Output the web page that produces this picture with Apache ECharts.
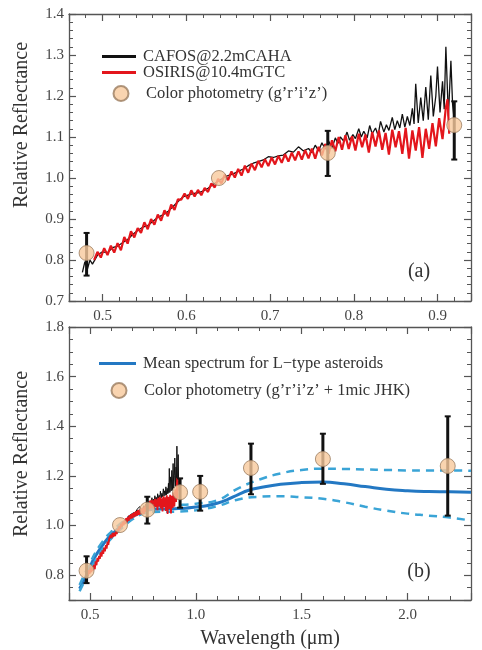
<!DOCTYPE html>
<html>
<head>
<meta charset="utf-8">
<title>Relative reflectance</title>
<script src="https://cdn.jsdelivr.net/npm/echarts@6/dist/echarts.min.js"></script>
<style>
  html, body { margin: 0; padding: 0; background: #fff; }
  #container { width: 482px; height: 650px; }
</style>
</head>
<body>
<div id="container"></div>
<script>
// CAFOS@2.2mCAHA spectrum [wavelength, reflectance]
var cafos = [
	[0.476,0.770],[0.479,0.796],[0.482,0.778],[0.485,0.800],[0.488,0.790],[0.494,0.812],
	[0.500,0.820],[0.506,0.818],[0.512,0.830],[0.518,0.834],[0.524,0.842],[0.530,0.850],
	[0.536,0.862],[0.542,0.872],[0.548,0.880],[0.554,0.884],[0.560,0.894],[0.566,0.904],
	[0.572,0.910],[0.578,0.918],[0.584,0.930],[0.590,0.942],[0.596,0.954],[0.602,0.958],
	[0.608,0.962],[0.614,0.964],[0.620,0.968],[0.626,0.975],[0.632,0.984],[0.638,0.992],
	[0.644,1.000],[0.650,1.006],[0.656,1.010],[0.662,1.016],[0.668,1.022],[0.674,1.030],
	[0.680,1.036],[0.686,1.040],[0.692,1.044],[0.698,1.052],[0.704,1.050],[0.710,1.054],
	[0.716,1.056],[0.722,1.066],[0.728,1.063],[0.734,1.076],[0.740,1.066],[0.746,1.072],
	[0.750,1.062],[0.754,1.080],[0.758,1.066],[0.762,1.086],[0.766,1.070],[0.770,1.090],
	[0.774,1.072],[0.778,1.098],[0.781,1.084],[0.784,1.100],[0.788,1.090],[0.792,1.112],
	[0.795,1.092],[0.799,1.106],[0.802,1.096],[0.806,1.120],[0.809,1.100],[0.812,1.114],
	[0.816,1.098],[0.819,1.128],[0.822,1.108],[0.826,1.122],[0.829,1.104],[0.832,1.138],
	[0.836,1.112],[0.839,1.130],[0.842,1.116],[0.846,1.148],[0.849,1.118],[0.852,1.140],
	[0.855,1.122],[0.858,1.156],[0.861,1.124],[0.864,1.150],[0.867,1.128],[0.870,1.170],
	[0.872,1.132],[0.874,1.230],[0.877,1.134],[0.880,1.196],[0.883,1.140],[0.886,1.222],
	[0.889,1.142],[0.892,1.250],[0.895,1.150],[0.898,1.200],[0.900,1.272],[0.903,1.160],
	[0.906,1.236],[0.908,1.168],[0.910,1.320],[0.913,1.150],[0.916,1.286],[0.918,1.180],
	[0.920,1.140]
];

// OSIRIS@10.4mGTC spectrum [wavelength, reflectance]
var osiris = [
	[0.490,0.800],[0.494,0.820],[0.498,0.806],[0.502,0.829],[0.506,0.812],[0.510,0.835],
	[0.514,0.818],[0.518,0.841],[0.522,0.824],[0.526,0.856],[0.530,0.840],[0.534,0.870],
	[0.538,0.855],[0.542,0.878],[0.546,0.866],[0.550,0.892],[0.554,0.875],[0.558,0.900],
	[0.562,0.886],[0.566,0.911],[0.570,0.896],[0.574,0.921],[0.578,0.907],[0.582,0.935],
	[0.586,0.922],[0.590,0.948],[0.594,0.947],[0.598,0.962],[0.602,0.949],[0.606,0.970],
	[0.610,0.955],[0.614,0.971],[0.618,0.958],[0.622,0.976],[0.626,0.966],[0.630,0.987],
	[0.634,0.977],[0.638,0.998],[0.642,0.987],[0.646,1.008],[0.650,0.995],[0.654,1.016],
	[0.658,1.001],[0.662,1.022],[0.666,1.006],[0.670,1.030],[0.674,1.013],[0.678,1.035],
	[0.682,1.019],[0.686,1.042],[0.690,1.026],[0.694,1.046],[0.698,1.029],[0.702,1.050],
	[0.706,1.033],[0.710,1.054],[0.714,1.037],[0.718,1.058],[0.722,1.040],[0.726,1.062],
	[0.730,1.043],[0.734,1.065],[0.738,1.045],[0.742,1.068],[0.746,1.048],[0.750,1.072],
	[0.754,1.047],[0.758,1.076],[0.762,1.055],[0.766,1.083],[0.770,1.059],[0.774,1.092],
	[0.778,1.065],[0.782,1.100],[0.786,1.069],[0.790,1.104],[0.794,1.071],[0.798,1.102],
	[0.802,1.067],[0.806,1.108],[0.810,1.075],[0.814,1.106],[0.818,1.062],[0.822,1.112],
	[0.826,1.077],[0.830,1.116],[0.834,1.069],[0.838,1.110],[0.842,1.057],[0.846,1.118],
	[0.850,1.075],[0.854,1.114],[0.858,1.059],[0.862,1.122],[0.866,1.047],[0.870,1.116],
	[0.874,1.067],[0.878,1.124],[0.882,1.049],[0.886,1.120],[0.890,1.071],[0.894,1.134],
	[0.898,1.077],[0.902,1.146],[0.906,1.095],[0.910,1.172],[0.912,1.192],[0.914,1.108]
];

// mean L-type spectrum and its dispersion
var meanL = [
	[0.45,0.745],[0.48,0.795],[0.50,0.835],[0.52,0.870],[0.55,0.910],[0.58,0.945],
	[0.60,0.962],[0.64,0.995],[0.68,1.025],[0.72,1.045],[0.76,1.060],[0.80,1.066],
	[0.85,1.067],[0.90,1.068],[0.95,1.070],[1.00,1.075],[1.05,1.080],[1.10,1.090],
	[1.15,1.105],[1.20,1.125],[1.25,1.142],[1.30,1.152],[1.40,1.166],[1.50,1.173],
	[1.60,1.175],[1.70,1.168],[1.80,1.157],[1.90,1.146],[2.00,1.140],[2.10,1.137],
	[2.20,1.136],[2.30,1.134]
];
var upperL = [
	[0.45,0.760],[0.50,0.850],[0.55,0.925],[0.60,0.975],[0.65,1.012],[0.70,1.045],
	[0.75,1.068],[0.80,1.078],[0.90,1.082],[1.00,1.088],[1.10,1.102],[1.20,1.150],
	[1.30,1.185],[1.40,1.210],[1.50,1.224],[1.60,1.229],[1.70,1.228],[1.80,1.226],
	[1.90,1.224],[2.00,1.222],[2.10,1.222],[2.20,1.222],[2.30,1.221]
];
var lowerL = [
	[0.45,0.735],[0.50,0.820],[0.55,0.895],[0.60,0.948],[0.65,0.990],[0.70,1.025],
	[0.75,1.048],[0.80,1.055],[0.90,1.056],[1.00,1.062],[1.10,1.078],[1.20,1.105],
	[1.30,1.116],[1.40,1.118],[1.50,1.114],[1.60,1.108],[1.70,1.094],[1.80,1.076],
	[1.90,1.060],[2.00,1.048],[2.10,1.040],[2.20,1.032],[2.30,1.020]
];

// colour photometry, panel (a)
var photWaveA = [0.481, 0.639, 0.769, 0.920];
var photReflA = [0.817, 1.000, 1.061, 1.129];
var photLowA  = [0.762, null, 1.005, 1.045];
var photHighA = [0.866, null, 1.115, 1.187];

// colour photometry + 1mic JHK, panel (b)
var photWaveB = [0.483, 0.641, 0.770, 0.925, 1.020, 1.260, 1.600, 2.190];
var photReflB = [0.818, 1.002, 1.064, 1.134, 1.136, 1.232, 1.268, 1.240];
var photLowB  = [0.768, null, 1.008, 1.072, 1.060, 1.126, 1.168, 1.040];
var photHighB = [0.876, null, 1.116, 1.190, 1.200, 1.330, 1.370, 1.440];

var serif = '"Liberation Serif", "DejaVu Serif", serif';
var axisColor = '#555';

function zip(a, b) {
	var out = [];
	for (var i = 0; i < a.length; i++) out.push([a[i], b[i]]);
	return out;
}
function errData(w, lo, hi) {
	var out = [];
	for (var i = 0; i < w.length; i++) {
		if (lo[i] != null) out.push([w[i], lo[i], hi[i]]);
	}
	return out;
}
function fmt(v) { return v.toFixed(1); }

function axis(grid, pos, min, max, split, minorSplit, labels, showMin, showMax) {
	return {
		type: 'value', gridIndex: grid, position: pos,
		min: min, max: max, splitNumber: split, scale: true,
		axisLine: { show: true, onZero: false, lineStyle: { color: axisColor, width: 1.3 } },
		axisTick: { show: true, inside: true, length: 7, lineStyle: { color: axisColor, width: 1.2 } },
		minorTick: { show: true, splitNumber: minorSplit, length: 4, lineStyle: { color: axisColor, width: 1 } },
		axisLabel: {
			show: labels, margin: (pos == 'left' ? 5 : 8), color: '#444',
			fontFamily: serif, fontSize: 15, formatter: fmt,
			showMinLabel: showMin, showMaxLabel: showMax
		},
		splitLine: { show: false }
	};
}

function errSeries(xi, data) {
	return {
		type: 'custom', xAxisIndex: xi, yAxisIndex: xi, data: data, z: 4,
		encode: { x: 0, y: [1, 2] },
		renderItem: function(params, api) {
			var x = api.value(0);
			var p1 = api.coord([x, api.value(1)]);
			var p2 = api.coord([x, api.value(2)]);
			var c = 3;
			return {
				type: 'group',
				children: [
					{ type: 'line', shape: { x1: p1[0], y1: p1[1], x2: p2[0], y2: p2[1] }, style: { stroke: '#111', lineWidth: 3 } },
					{ type: 'line', shape: { x1: p1[0] - c, y1: p1[1], x2: p1[0] + c, y2: p1[1] }, style: { stroke: '#111', lineWidth: 2 } },
					{ type: 'line', shape: { x1: p2[0] - c, y1: p2[1], x2: p2[0] + c, y2: p2[1] }, style: { stroke: '#111', lineWidth: 2 } }
				]
			};
		}
	};
}

var photStyle = { color: '#f7c99c', borderColor: '#9b7d60', borderWidth: 1 };
var legendText = { fontFamily: serif, fontSize: 16.5, color: '#333', padding: [0, 0, 0, 2] };

function legend(name, left, top, icon, w, h) {
	return {
		data: [icon ? { name: name, icon: icon } : name],
		left: left, top: top, padding: 0, itemWidth: w, itemHeight: h,
		selectedMode: false, textStyle: legendText
	};
}

var option = {
	animation: false,
	backgroundColor: '#fff',
	grid: [
		{ left: 69, top: 14, width: 402, height: 287 },
		{ left: 69, top: 327, width: 402, height: 275 }
	],
	xAxis: [
		axis(0, 'bottom', 0.46, 0.94, 5, 5, true, false, false),
		axis(0, 'top', 0.46, 0.94, 5, 5, false, false, false),
		Object.assign(axis(1, 'bottom', 0.4, 2.3, 4, 5, true, false, false), {
			name: 'Wavelength (μm)', nameLocation: 'middle', nameGap: 29,
			nameTextStyle: { fontFamily: serif, fontSize: 20, color: '#333' }
		}),
		axis(1, 'top', 0.4, 2.3, 4, 5, false, false, false)
	],
	yAxis: [
		axis(0, 'left', 0.7, 1.4, 5, 5, true, true, true),
		axis(0, 'right', 0.7, 1.4, 5, 5, false, false, false),
		axis(1, 'left', 0.7, 1.8, 5, 4, true, false, true),
		axis(1, 'right', 0.7, 1.8, 5, 4, false, false, false)
	],
	legend: [
		legend('CAFOS@2.2mCAHA', 102, 48, 'rect', 34, 3),
		legend('OSIRIS@10.4mGTC', 102, 64, 'rect', 34, 3),
		legend('Color photometry (g’r’i’z’)', 112.5, 85, null, 36, 15),
		legend('Mean spectrum for L−type asteroids', 99, 355, 'rect', 37, 3),
		legend('Color photometry (g’r’i’z’ + 1mic JHK)', 110.5, 382, null, 36, 15)
	],
	graphic: [
		{ type: 'text', x: 22, y: 125, rotation: Math.PI / 2,
		  style: { text: 'Relative Reflectance', font: '20px ' + serif, fill: '#333', align: 'center', verticalAlign: 'middle' } },
		{ type: 'text', x: 22, y: 454, rotation: Math.PI / 2,
		  style: { text: 'Relative Reflectance', font: '20px ' + serif, fill: '#333', align: 'center', verticalAlign: 'middle' } },
		{ type: 'text', x: 419, y: 272,
		  style: { text: '(a)', font: '20px ' + serif, fill: '#333', align: 'center', verticalAlign: 'middle' } },
		{ type: 'text', x: 419, y: 572,
		  style: { text: '(b)', font: '20px ' + serif, fill: '#333', align: 'center', verticalAlign: 'middle' } }
	],
	series: [
		// panel (a)
		{ name: 'CAFOS@2.2mCAHA', type: 'line', xAxisIndex: 0, yAxisIndex: 0, data: cafos,
		  symbol: 'none', lineStyle: { color: '#111', width: 1.3 }, itemStyle: { color: '#111' } },
		{ name: 'OSIRIS@10.4mGTC', type: 'line', xAxisIndex: 0, yAxisIndex: 0, data: osiris,
		  symbol: 'none', lineStyle: { color: '#e3161c', width: 2.2 }, itemStyle: { color: '#e3161c' } },
		errSeries(0, errData(photWaveA, photLowA, photHighA)),
		{ name: 'Color photometry (g’r’i’z’)', type: 'scatter', xAxisIndex: 0, yAxisIndex: 0,
		  data: zip(photWaveA, photReflA), symbolSize: 15, itemStyle: photStyle, z: 5 },

		// panel (b)
		{ name: 'Mean spectrum for L−type asteroids', type: 'line', xAxisIndex: 2, yAxisIndex: 2, data: meanL,
		  symbol: 'none', smooth: true, lineStyle: { color: '#2378c3', width: 3 }, itemStyle: { color: '#2378c3' } },
		{ name: 'upper', type: 'line', xAxisIndex: 2, yAxisIndex: 2, data: upperL,
		  symbol: 'none', smooth: true, lineStyle: { color: '#3aa4d6', width: 2.5, type: [8, 6] } },
		{ name: 'lower', type: 'line', xAxisIndex: 2, yAxisIndex: 2, data: lowerL,
		  symbol: 'none', smooth: true, lineStyle: { color: '#3aa4d6', width: 2.5, type: [8, 6] } },
		{ name: 'cafosB', type: 'line', xAxisIndex: 2, yAxisIndex: 2, data: cafos,
		  symbol: 'none', lineStyle: { color: '#111', width: 1 } },
		{ name: 'osirisB', type: 'line', xAxisIndex: 2, yAxisIndex: 2, data: osiris,
		  symbol: 'none', lineStyle: { color: '#e3161c', width: 1.8 } },
		errSeries(2, errData(photWaveB, photLowB, photHighB)),
		{ name: 'Color photometry (g’r’i’z’ + 1mic JHK)', type: 'scatter', xAxisIndex: 2, yAxisIndex: 2,
		  data: zip(photWaveB, photReflB), symbolSize: 15, itemStyle: photStyle, z: 5 }
	]
};

var myChart = echarts.init(document.getElementById('container'));
myChart.setOption(option);
</script>
</body>
</html>
